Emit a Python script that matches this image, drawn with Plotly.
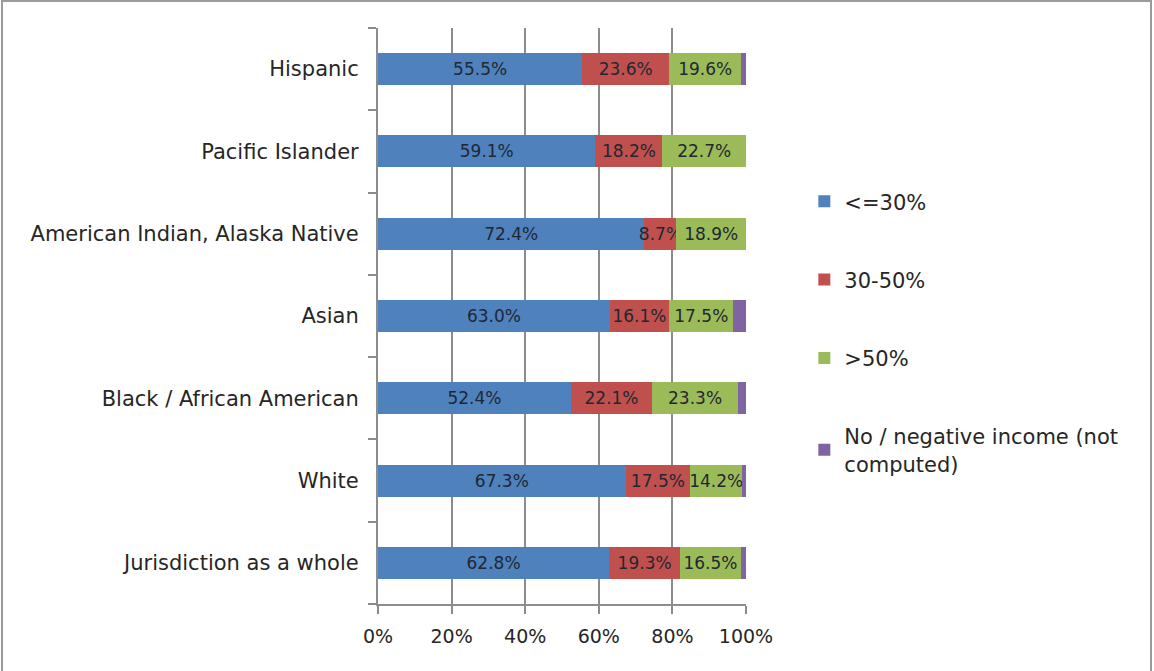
import plotly.graph_objects as go

categories = ["Jurisdiction as a whole", "White", "Black / African American", "Asian",
              "American Indian, Alaska Native", "Pacific Islander", "Hispanic"]
le30 = [62.8, 67.3, 52.4, 63.0, 72.4, 59.1, 55.5]
p30_50 = [19.3, 17.5, 22.1, 16.1, 8.7, 18.2, 23.6]
gt50 = [16.5, 14.2, 23.3, 17.5, 18.9, 22.7, 19.6]
noinc = [1.4, 1.0, 2.2, 3.4, 0.0, 0.0, 1.3]
tick_vals = [0, 20, 40, 60, 80, 100]
tick_text = ["0%", "20%", "40%", "60%", "80%", "100%"]

series = [
    ("<=30%", le30, "#4F81BD", True),
    ("30-50%", p30_50, "#C0504D", True),
    (">50%", gt50, "#9BBB59", True),
    ("No / negative income (not<br>computed)", noinc, "#8064A2", False),
]

FONT = "DejaVu Sans"
fig = go.Figure()
for i, (name, vals, color, show) in enumerate(series):
    fig.add_trace(go.Bar(
        y=categories, x=vals, name=name, orientation="h",
        marker=dict(color=color, line=dict(width=0)),
        text=[f"{v:.1f}%" for v in vals] if show else None,
        textposition="inside" if show else "none",
        insidetextanchor="middle", textangle=0, constraintext="none",
        textfont=dict(family=FONT, size=17, color="#1f2733"),
        legendgroup=f"g{i}",
        hoverinfo="x+name",
    ))

fig.update_layout(
    barmode="stack", bargap=0.61,
    width=1154, height=671,
    margin=dict(l=378, r=408, t=28, b=67),
    paper_bgcolor="white", plot_bgcolor="white",
    font=dict(family=FONT, size=19, color="#262626"),
    legend=dict(xref="container", yref="container", x=0.697, y=0.73,
                xanchor="left", yanchor="top", tracegroupgap=48,
                font=dict(family=FONT, size=21, color="#262626"), itemwidth=30),
    showlegend=True,
    xaxis=dict(range=[0, 100], tickvals=tick_vals, ticktext=tick_text,
               showgrid=True, gridcolor="#8c8c8c", gridwidth=1.5,
               ticks="outside", ticklen=8, tickcolor="#8c8c8c", tickwidth=1.5,
               showline=True, linecolor="#8c8c8c", linewidth=1.5,
               zeroline=False, fixedrange=True, ticklabelstandoff=6,
               tickfont=dict(size=19)),
    yaxis=dict(categoryorder="array", categoryarray=categories,
               ticks="outside", tickson="boundaries", ticklen=8,
               tickcolor="#8c8c8c", tickwidth=1.5,
               showline=True, linecolor="#8c8c8c", linewidth=1.5,
               showgrid=False, ticksuffix="  ", tickfont=dict(size=21)),
    shapes=[dict(type="path", xref="paper", yref="paper",
                 path=f"M {-376/368} {-80/576} L {-376/368} {1+27/576} L {1+405/368} {1+27/576} L {1+405/368} {-80/576}",
                 line=dict(color="#9a9a9a", width=2), layer="below")],
)

fig.write_html("out.html", config={"displayModeBar": False},
               post_script="document.body.style.margin='0px';document.body.style.overflow='hidden';")
